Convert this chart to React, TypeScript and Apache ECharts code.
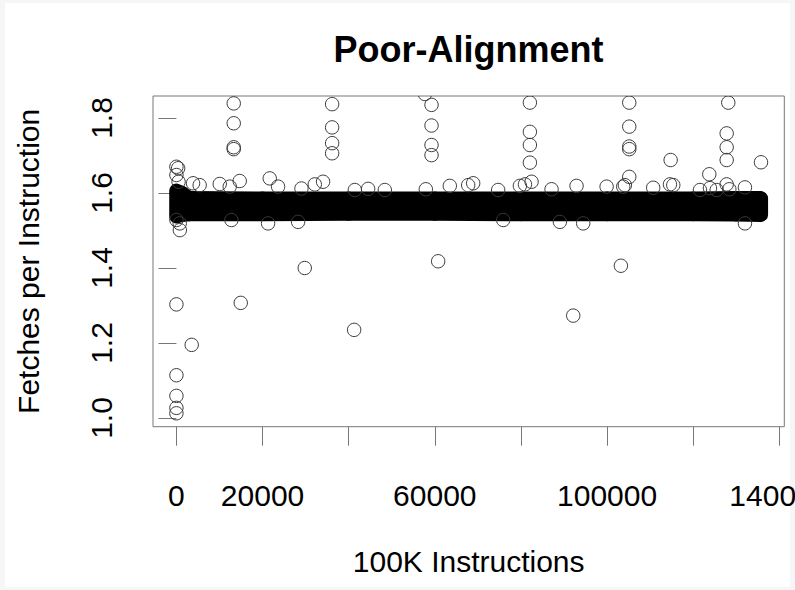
import React, { useEffect, useRef } from "react";
import * as echarts from "echarts";

// Axis ticks and the labels that fit between them
const xTicks = [0, 20000, 40000, 60000, 80000, 100000, 120000, 140000];
const xLabels = [0, 20000, 60000, 100000, 140000];
const yTicks = [1.0, 1.2, 1.4, 1.6, 1.8];

// Dense bulk of the samples: lower / upper envelope of the circle centres
const bandX = [0, 1200, 3000, 20000, 40000, 60000, 80000, 100000, 120000, 130000, 135700];
const bandLow = [1.538, 1.542, 1.544, 1.544, 1.545, 1.545, 1.544, 1.544, 1.544, 1.543, 1.542];
const bandHigh = [1.606, 1.600, 1.586, 1.585, 1.585, 1.585, 1.585, 1.585, 1.585, 1.586, 1.586];

// Spikes: columns of high readings
const spikeX = [13310, 13310, 13310, 13310, 36150, 36150, 36150, 36150, 57700, 59230, 59230, 59230, 59230,
  82070, 82070, 82070, 82070, 105140, 105140, 105140, 105140, 105140, 128130, 127760, 127760, 127760,
  114750, 123720, 135730];
const spikeY = [1.839, 1.786, 1.722, 1.717, 1.837, 1.775, 1.733, 1.706, 1.864, 1.835, 1.780, 1.728, 1.701,
  1.841, 1.763, 1.728, 1.681, 1.841, 1.777, 1.724, 1.717, 1.643, 1.841, 1.759, 1.722, 1.688,
  1.688, 1.650, 1.682];

// Dips: isolated low readings
const dipX = [0, 14940, 3550, 0, 0, 0, 0, 41260, 29800, 60770, 103200, 92130];
const dipY = [1.303, 1.307, 1.195, 1.114, 1.059, 1.027, 1.0125, 1.235, 1.400, 1.418, 1.406, 1.273];

// Scattered readings just outside the bulk
const edgeX = [0, 400, 0, 500, 3860, 5400, 10060, 12380, 14700, 21670, 23600, 29030, 32130, 34050, 41420,
  44510, 48390, 57910, 63480, 67740, 68900, 74700, 79750, 80930, 82460, 87100, 92900, 99880, 103740,
  104130, 110700, 114590, 115360, 121560, 123880, 125440, 127760, 128370, 132000,
  0, 770, 800, 12770, 21280, 28250, 75870, 89040, 94450, 132000];
const edgeY = [1.670, 1.666, 1.648, 1.630, 1.626, 1.621, 1.624, 1.617, 1.632, 1.639, 1.617, 1.612, 1.623,
  1.630, 1.608, 1.611, 1.608, 1.610, 1.619, 1.621, 1.626, 1.608, 1.619, 1.623, 1.630, 1.610, 1.619, 1.617,
  1.617, 1.621, 1.614, 1.623, 1.621, 1.608, 1.613, 1.608, 1.623, 1.610, 1.615,
  1.528, 1.519, 1.501, 1.528, 1.519, 1.523, 1.528, 1.523, 1.519, 1.519];

const FONT = "'Liberation Sans', Arial, Helvetica, sans-serif";
const CIRCLE_R = 6.7;
const STROKE = "#3a3a3a";

function zip(xs: number[], ys: number[]) {
  return xs.map((x, i) => [x, ys[i]]);
}

export default function App() {
  const ref = useRef<HTMLDivElement>(null);

  useEffect(() => {
    if (!ref.current) return;
    const chart = echarts.init(ref.current, null, { renderer: "svg" });

    const bandSegments = bandX.slice(0, -1).map((x, i) => [
      x, bandLow[i], bandHigh[i], bandX[i + 1], bandLow[i + 1], bandHigh[i + 1],
    ]);
    const circles = [...zip(spikeX, spikeY), ...zip(dipX, dipY), ...zip(edgeX, edgeY)];

    chart.setOption({
      animation: false,
      backgroundColor: "#f6f6f6",
      title: {
        text: "Poor-Alignment",
        left: 468.5,
        top: 31,
        padding: 0,
        textAlign: "center",
        textStyle: { fontFamily: FONT, fontSize: 36, fontWeight: "bold", color: "#000" },
      },
      graphic: [
        {
          type: "rect",
          z: -10,
          silent: true,
          shape: { x: 5, y: 3, width: 785, height: 584 },
          style: { fill: "#ffffff" },
        },
      ],
      grid: {
        left: 153,
        right: 10.7,
        top: 96,
        bottom: 163.3,
        show: true,
        borderColor: "#777",
        borderWidth: 1,
        backgroundColor: "transparent",
        containLabel: false,
        outerBoundsMode: "none",
      },
      xAxis: {
        type: "value",
        min: -5436,
        max: 141138,
        name: "100K Instructions",
        nameLocation: "middle",
        nameGap: 120,
        nameTextStyle: { fontFamily: FONT, fontSize: 30, color: "#000" },
        axisLine: { show: false },
        splitLine: { show: false },
        axisTick: {
          show: true,
          length: 19,
          customValues: xTicks,
          lineStyle: { color: "#777", width: 1 },
        },
        axisLabel: {
          customValues: xLabels,
          margin: 54,
          fontFamily: FONT,
          fontSize: 30,
          color: "#000",
          hideOverlap: false,
          formatter: (v: number) => String(v),
        },
      },
      yAxis: {
        type: "value",
        min: 0.9768,
        max: 1.8587,
        name: "Fetches per Instruction",
        nameLocation: "middle",
        nameRotate: 90,
        nameGap: 110,
        nameTextStyle: { fontFamily: FONT, fontSize: 30, color: "#000" },
        axisLine: { show: false },
        splitLine: { show: false },
        axisTick: {
          show: true,
          length: 18,
          customValues: yTicks,
          lineStyle: { color: "#777", width: 1 },
        },
        axisLabel: {
          customValues: yTicks,
          rotate: 90,
          margin: 37,
          fontFamily: FONT,
          fontSize: 30,
          color: "#000",
          formatter: (v: number) => v.toFixed(1),
        },
      },
      series: [
        {
          type: "custom",
          name: "bulk",
          clip: true,
          data: bandSegments,
          renderItem: (_params: any, api: any) => {
            const a = api.coord([api.value(0), api.value(1)]);
            const b = api.coord([api.value(0), api.value(2)]);
            const c = api.coord([api.value(3), api.value(5)]);
            const d = api.coord([api.value(3), api.value(4)]);
            return {
              type: "polygon",
              shape: { points: [a, b, c, d] },
              style: { fill: "#000", stroke: "#000", lineWidth: 2 * CIRCLE_R + 1, lineJoin: "round" },
            };
          },
        },
        {
          type: "custom",
          name: "samples",
          clip: true,
          data: circles,
          renderItem: (_params: any, api: any) => {
            const p = api.coord([api.value(0), api.value(1)]);
            return {
              type: "circle",
              shape: { cx: p[0], cy: p[1], r: CIRCLE_R },
              style: { fill: "none", stroke: STROKE, lineWidth: 1 },
            };
          },
        },
      ],
    });

    return () => chart.dispose();
  }, []);

  return (
    <div
      ref={ref}
      style={{ position: "absolute", left: 0, top: 0, width: 795, height: 590 }}
    />
  );
}
